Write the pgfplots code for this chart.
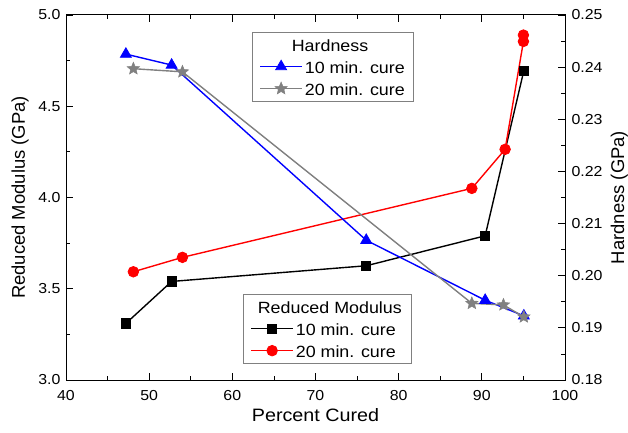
\documentclass[border=0pt]{standalone}
\usepackage{fontspec}
\setmainfont{Liberation Sans}
\newfontfamily\hfont{Liberation Sans}[FakeStretch=1.1]
\usepackage{pgfplots}
\pgfplotsset{compat=1.18}
\pgfdeclareplotmark{fstar}{%
  \pgfpathmoveto{\pgfpointpolar{90}{\pgfplotmarksize}}%
  \pgfpathlineto{\pgfpointpolar{126}{0.45\pgfplotmarksize}}%
  \pgfpathlineto{\pgfpointpolar{162}{\pgfplotmarksize}}%
  \pgfpathlineto{\pgfpointpolar{198}{0.45\pgfplotmarksize}}%
  \pgfpathlineto{\pgfpointpolar{234}{\pgfplotmarksize}}%
  \pgfpathlineto{\pgfpointpolar{270}{0.45\pgfplotmarksize}}%
  \pgfpathlineto{\pgfpointpolar{306}{\pgfplotmarksize}}%
  \pgfpathlineto{\pgfpointpolar{342}{0.45\pgfplotmarksize}}%
  \pgfpathlineto{\pgfpointpolar{18}{\pgfplotmarksize}}%
  \pgfpathlineto{\pgfpointpolar{54}{0.45\pgfplotmarksize}}%
  \pgfpathclose
  \pgfusepathqfillstroke}
\begin{document}
\begin{tikzpicture}
\useasboundingbox (-66bp,-53bp) rectangle (562bp,380bp);
\pgfplotsset{
 myleg/.style={legend image code/.code={\draw[mark repeat=2,mark phase=2] plot coordinates {(0bp,0bp) (21bp,0bp) (42bp,0bp)};}},
 every axis/.append style={
  scale only axis, width=499bp, height=365bp, at={(0,0)}, anchor=south west,
  xmin=40, xmax=100, tick align=inside,
  /pgf/number format/assume math mode=true,
  tick label style={font=\hfont\fontsize{14.5}{17}\selectfont},
  major tick length=7bp, minor tick length=4bp,
  tick style={black, line width=0.8pt},
  axis line style={line width=1pt},
  legend style={font=\hfont\fontsize{16.3}{19}\selectfont, draw=gray, line width=0.6pt,
    inner xsep=7bp, inner ysep=4bp, row sep=5bp,
    nodes={inner xsep=2bp, inner ysep=1.5bp, text height=14bp, text depth=0bp}},
  legend cell align=left,
 }
}
\begin{axis}[
 ymin=3, ymax=5, ytick={3,3.5,4,4.5,5}, minor y tick num=1, minor x tick num=1,
 xtick={40,50,60,70,80,90,100},
 xtick pos=both, ytick pos=left,
 yticklabel style={xshift=-2bp, /pgf/number format/.cd, fixed, fixed zerofill, precision=1},
 xticklabel style={anchor=base, yshift=-20bp},
 xlabel={Percent Cured}, ylabel={Reduced Modulus (GPa)},
 xlabel style={at={([yshift=-41bp]axis description cs:0.5,0)}, anchor=base, font=\hfont\fontsize{18}{21}\selectfont},
 ylabel style={at={([xshift=-41bp]axis description cs:0,0.5)}, anchor=base, font=\fontsize{18.5}{21}\selectfont},
 legend style={at={(0.355,0.236)}, anchor=north west},
]
\addlegendimage{empty legend}\addlegendentry{\hspace{-38bp}Reduced Modulus}
\addplot[black, line width=1.4pt, mark=square*, mark size=4.6bp, mark options={line width=0.8pt}, myleg] coordinates {
 (47.2,3.31) (52.7,3.54) (76.1,3.626) (90.4,3.79) (95.05,4.695)};
\addlegendentry{10 min. cure}
\addplot[red, line width=1.4pt, mark=*, mark size=5.3bp, mark options={line width=0.8pt}, myleg] coordinates {
 (48.1,3.593) (54.0,3.672) (88.8,4.05) (92.8,4.264) (95.0,4.855) (95.0,4.89)};
\addlegendentry{20 min. cure}
\end{axis}
\begin{axis}[
 axis x line=none, axis y line*=right,
 ymin=0.18, ymax=0.25, ytick={0.18,0.19,0.2,0.21,0.22,0.23,0.24,0.25}, minor y tick num=1,
 yticklabel style={xshift=3bp, /pgf/number format/.cd, fixed, fixed zerofill, precision=2},
 ylabel={Hardness (GPa)},
 ylabel style={at={([xshift=59bp]axis description cs:1,0.5)}, anchor=base, font=\fontsize{18.5}{21}\selectfont},
 legend style={at={(0.373,0.954)}, anchor=north west},
]
\addlegendimage{empty legend}\addlegendentry{\hspace{-13bp}Hardness}
\addplot[blue, line width=1.4pt, mark=triangle*, mark size=6.3bp, mark options={line width=0.8pt}, myleg] coordinates {
 (47.2,0.2425) (52.7,0.2404) (76.1,0.2068) (90.4,0.1953) (95.05,0.1923)};
\addlegendentry{10 min. cure}
\addplot[gray, line width=1.4pt, mark=fstar, mark size=6.5bp, mark options={line width=0.5pt}, myleg] coordinates {
 (48.1,0.2397) (54.0,0.2391) (88.8,0.1947) (92.6,0.1944) (95.05,0.1921)};
\addlegendentry{20 min. cure}
\end{axis}
\end{tikzpicture}
\end{document}
